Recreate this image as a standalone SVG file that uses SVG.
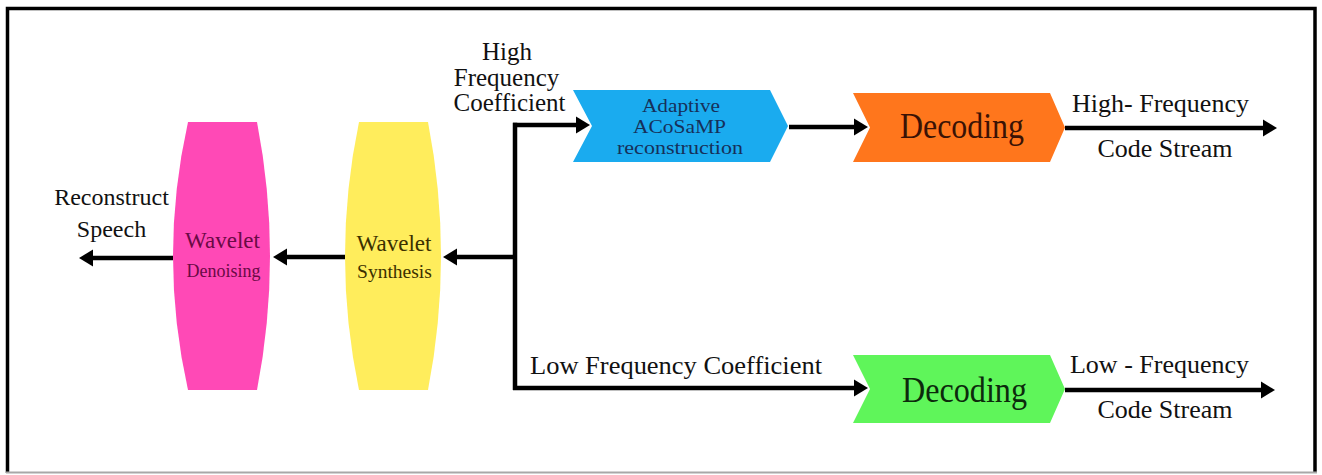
<svg xmlns="http://www.w3.org/2000/svg" width="1322" height="475" viewBox="0 0 1322 475">
<style>
  text { font-family: "Liberation Serif", "Times New Roman", serif; text-anchor: middle; fill: #111; }
  .lbl { font-size: 25px; }
  .out { font-size: 26px; }
  .conn { stroke: #000; stroke-width: 4.5; fill: none; }
  .dec { font-size: 36px; }
  .blue { font-size: 18.5px; fill: #16305a; }
</style>
<defs>
  <marker id="ah" markerUnits="userSpaceOnUse" markerWidth="15" markerHeight="18" refX="3" refY="9" orient="auto">
    <path d="M0,0.5 L14,9 L0,17.5 Z" fill="#000"/>
  </marker>
</defs>
<rect x="0" y="0" width="1322" height="475" fill="#fff"/>
<path d="M7.5,473 V8.5 H1315 V473" fill="none" stroke="#000" stroke-width="3.5"/>
<path d="M6,472.5 H1317" fill="none" stroke="#a8a8a8" stroke-width="2"/>

<g id="connectors">
  <path class="conn" d="M173,258 H90" marker-end="url(#ah)"/>
  <path class="conn" d="M345,257 H284" marker-end="url(#ah)"/>
  <path class="conn" d="M515,257 H454" marker-end="url(#ah)"/>
  <path class="conn" d="M515,122.8 V390" />
  <path class="conn" d="M513,125 H579" marker-end="url(#ah)"/>
  <path class="conn" d="M513,388 H857" marker-end="url(#ah)"/>
  <path class="conn" d="M789,127 H857" marker-end="url(#ah)"/>
  <path class="conn" d="M1065,128 H1266" marker-end="url(#ah)"/>
  <path class="conn" d="M1065,390 H1264" marker-end="url(#ah)"/>
</g>

<g id="label-high-coef">
  <text class="lbl" x="507" y="60">High</text>
  <text class="lbl" x="506.5" y="86">Frequency</text>
  <text class="lbl" x="509.5" y="111">Coefficient</text>
</g>
<g id="label-reconstruct">
  <text font-size="24" x="111.5" y="205">Reconstruct</text>
  <text font-size="24" x="111.5" y="237">Speech</text>
</g>
<g id="label-low-coef">
  <text class="out" x="676" y="374" textLength="292" lengthAdjust="spacingAndGlyphs">Low Frequency Coefficient</text>
</g>
<g id="label-high-out">
  <text class="out" x="1160.5" y="112">High- Frequency</text>
  <text class="out" x="1165" y="157">Code Stream</text>
</g>
<g id="label-low-out">
  <text class="out" x="1159.5" y="373">Low - Frequency</text>
  <text class="out" x="1165" y="418">Code Stream</text>
</g>

<g id="wavelet-denoising">
  <path d="M188,122 L257,122 Q283,256 257,390 L188,390 Q158,256 188,122 Z" fill="#FF49B6"/>
  <text font-size="23" x="222.5" y="248" style="fill:#6a0a45">Wavelet</text>
  <text font-size="18" x="223.5" y="277" style="fill:#6a0a45">Denoising</text>
</g>

<g id="wavelet-synthesis">
  <path d="M359,122 L428,122 Q454,256 428,390 L359,390 Q331,256 359,122 Z" fill="#FFED5C"/>
  <text font-size="23" x="394" y="251" style="fill:#3b3000">Wavelet</text>
  <text font-size="19.5" x="394.5" y="278" style="fill:#3b3000">Synthesis</text>
</g>

<g id="acosamp">
  <path d="M573,90 L770,90 L788,126 L770,162 L573,162 L592,126 Z" fill="#1AABEF"/>
  <text class="blue" x="681" y="112" textLength="78" lengthAdjust="spacingAndGlyphs">Adaptive</text>
  <text class="blue" x="679.5" y="133" textLength="93" lengthAdjust="spacingAndGlyphs">ACoSaMP</text>
  <text class="blue" x="680" y="154" textLength="126" lengthAdjust="spacingAndGlyphs">reconstruction</text>
</g>

<g id="decoding-high">
  <path d="M853,93 L1050,93 L1065,127.5 L1050,162 L853,162 L870,127.5 Z" fill="#FF761C"/>
  <text class="dec" x="962" y="138" textLength="124" lengthAdjust="spacingAndGlyphs" style="fill:#3a1205">Decoding</text>
</g>

<g id="decoding-low">
  <path d="M853,355 L1050,355 L1065,389 L1050,423 L853,423 L870,389 Z" fill="#5FF55A"/>
  <text class="dec" x="964.5" y="402" textLength="125" lengthAdjust="spacingAndGlyphs" style="fill:#0c2a0c">Decoding</text>
</g>
</svg>
